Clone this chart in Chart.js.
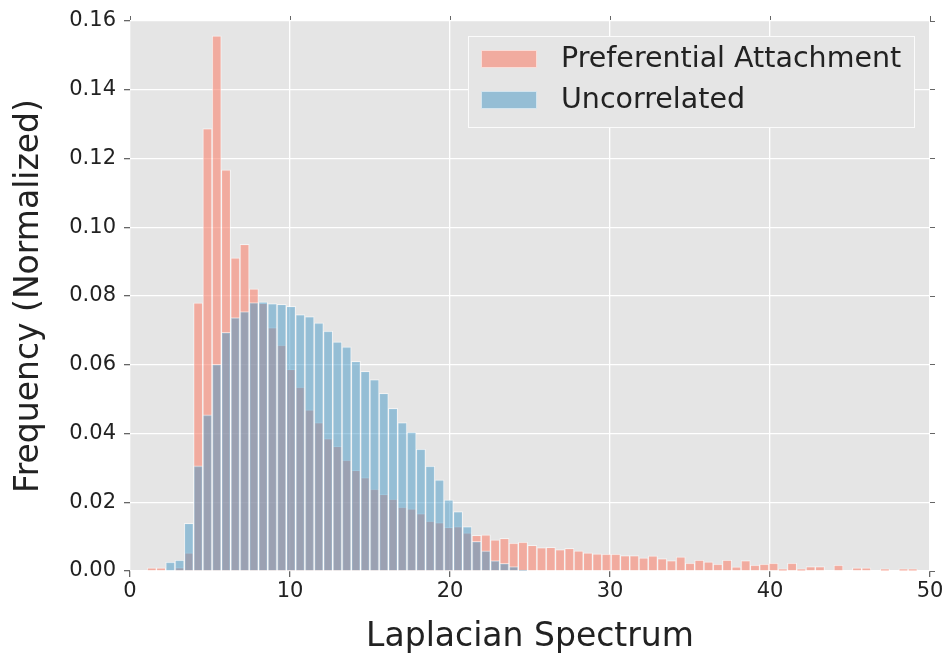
<!DOCTYPE html>
<html lang="en">
<head>
<meta charset="UTF-8">
<title>Laplacian Spectrum</title>
<script src="https://cdn.jsdelivr.net/npm/chart.js"></script>
<style>
  html, body { margin: 0; padding: 0; background: #fff; }
  #wrap { width: 951px; height: 659px; position: relative; }
</style>
</head>
<body>
<div id="wrap"><canvas id="grafico"></canvas></div>
<script>
// bin centres of the histogram (width about 0.58)
const binCenters = [
  1.36, 1.94, 2.52, 3.10, 3.68, 4.26, 4.84, 5.42, 6.00, 6.58,
  7.16, 7.74, 8.32, 8.90, 9.48, 10.06, 10.64, 11.22, 11.80, 12.38,
  12.96, 13.54, 14.12, 14.70, 15.28, 15.86, 16.44, 17.02, 17.60, 18.18,
  18.76, 19.34, 19.92, 20.50, 21.08, 21.66, 22.24, 22.82, 23.40, 23.98,
  24.56, 25.14, 25.72, 26.30, 26.88, 27.46, 28.04, 28.62, 29.20, 29.78,
  30.36, 30.94, 31.52, 32.10, 32.68, 33.26, 33.84, 34.42, 35.00, 35.58,
  36.16, 36.74, 37.32, 37.90, 38.48, 39.06, 39.64, 40.22, 40.80, 41.38,
  41.96, 42.54, 43.12, 43.70, 44.28, 44.86, 45.44, 46.02, 46.60, 47.18,
  47.76, 48.34, 48.92
];

const preferential = [
  0.0009, 0.0009, 0, 0.0010, 0.0053, 0.0780, 0.1287, 0.1557, 0.1167, 0.0911,
  0.0950, 0.0821, 0.0779, 0.0708, 0.0657, 0.0587, 0.0535, 0.0469, 0.0432, 0.0385,
  0.0363, 0.0323, 0.0293, 0.0272, 0.0238, 0.0223, 0.0209, 0.0186, 0.0181, 0.0167,
  0.0145, 0.0141, 0.0127, 0.0129, 0.0111, 0.0104, 0.0105, 0.0091, 0.0095, 0.0081,
  0.0084, 0.0075, 0.0068, 0.0069, 0.0062, 0.0066, 0.0059, 0.0053, 0.0050, 0.0049,
  0.0049, 0.0045, 0.0045, 0.0038, 0.0044, 0.0036, 0.0030, 0.0041, 0.0023, 0.0032,
  0.0027, 0.0020, 0.0032, 0.0012, 0.0030, 0.0017, 0.0020, 0.0023, 0.0006, 0.0023,
  0.0006, 0.0013, 0.0013, 0, 0.0017, 0, 0.0009, 0.0009, 0, 0.0006,
  0, 0.0006, 0.0006
];

const uncorrelated = [
  0, 0, 0.0026, 0.0032, 0.0139, 0.0306, 0.0454, 0.0601, 0.0694, 0.0737,
  0.0755, 0.0781, 0.0783, 0.0778, 0.0776, 0.0770, 0.0746, 0.0740, 0.0722, 0.0698,
  0.0667, 0.0652, 0.0610, 0.0581, 0.0557, 0.0517, 0.0473, 0.0432, 0.0404, 0.0355,
  0.0305, 0.0265, 0.0207, 0.0173, 0.0129, 0.0086, 0.0059, 0.0030, 0.0022, 0.0013,
  0.0003
];

const xTicks = [0, 10, 20, 30, 40, 50];
const yTicks = [0.00, 0.02, 0.04, 0.06, 0.08, 0.10, 0.12, 0.14, 0.16];

const corVermelha = 'rgba(249,132,112,0.6)';
const corAzul = 'rgba(70,152,198,0.5)';
const fonte = 'DejaVu Sans';

function pontos(valores) {
  return binCenters.map((c, i) => ({ x: c, y: valores[i] ? valores[i] : null }));
}

// fundo cinza da area do grafico
const fundo = {
  id: 'fundo',
  beforeDraw(chart) {
    const a = chart.chartArea, ctx = chart.ctx;
    ctx.save();
    ctx.fillStyle = '#E5E5E5';
    ctx.fillRect(a.left, a.top, a.right - a.left, a.bottom - a.top);
    ctx.restore();
  }
};

// legenda dentro do grafico, canto superior direito
const legenda = {
  id: 'legenda',
  afterDatasetsDraw(chart) {
    const a = chart.chartArea, ctx = chart.ctx;
    const w = 447, h = 92;
    const x0 = a.right - 15 - w, y0 = a.top + 15;
    ctx.save();
    ctx.fillStyle = '#E5E5E5';
    ctx.fillRect(x0, y0, w, h);
    ctx.strokeStyle = 'rgba(255,255,255,0.85)';
    ctx.lineWidth = 1;
    ctx.strokeRect(x0 + 0.5, y0 + 0.5, w - 1, h - 1);
    const itens = [chart.data.datasets[1], chart.data.datasets[0]];
    ctx.font = '28.5px "' + fonte + '"';
    ctx.textBaseline = 'middle';
    itens.forEach((ds, i) => {
      const cy = y0 + 23 + i * 41;
      ctx.fillStyle = ds.backgroundColor;
      ctx.fillRect(x0 + 13, cy - 9, 56, 18);
      ctx.strokeStyle = 'rgba(255,255,255,0.6)';
      ctx.strokeRect(x0 + 13.5, cy - 8.5, 55, 17);
      ctx.fillStyle = '#222';
      ctx.fillText(ds.label, x0 + 93, cy + 1);
    });
    ctx.restore();
  }
};

new Chart(document.getElementById('grafico').getContext('2d'), {
  type: 'bar',
  data: {
    datasets: [
      {
        label: 'Uncorrelated',
        data: pontos(uncorrelated),
        backgroundColor: corAzul,
        borderColor: 'rgba(255,255,255,0.55)',
        borderWidth: 1,
        order: 1
      },
      {
        label: 'Preferential Attachment',
        data: pontos(preferential),
        backgroundColor: corVermelha,
        borderColor: 'rgba(255,255,255,0.55)',
        borderWidth: 1,
        order: 2
      }
    ]
  },
  options: {
    responsive: true,
    maintainAspectRatio: false,
    animation: false,
    grouped: false,
    categoryPercentage: 1.0,
    barPercentage: 1.0,
    layout: { padding: 0 },
    plugins: {
      legend: { display: false },
      tooltip: { enabled: false }
    },
    scales: {
      x: {
        type: 'linear',
        position: 'bottom',
        offset: false,
        min: 0,
        max: 50,
        afterBuildTicks: (s) => { s.ticks = xTicks.map(v => ({ value: v })); },
        afterFit: (s) => { s.height = 88; },
        grid: { offset: false, color: '#fff', lineWidth: 1.3, tickColor: '#666', tickLength: 6 },
        border: { display: false },
        ticks: { color: '#222', font: { family: fonte, size: 21 }, padding: 2, maxRotation: 0 },
        title: { display: true, text: 'Laplacian Spectrum', color: '#222', font: { family: fonte, size: 33 }, padding: { top: 0, bottom: 2 } }
      },
      x2: {
        type: 'linear',
        position: 'top',
        offset: false,
        min: 0,
        max: 50,
        afterBuildTicks: (s) => { s.ticks = xTicks.map(v => ({ value: v })); },
        afterFit: (s) => { s.height = 21; },
        grid: { offset: false, drawOnChartArea: false, tickColor: '#666', tickLength: 5 },
        border: { display: false },
        ticks: { display: false }
      },
      y: {
        position: 'left',
        min: 0,
        max: 0.16,
        afterBuildTicks: (s) => { s.ticks = yTicks.map(v => ({ value: v })); },
        afterFit: (s) => { s.width = 130; },
        grid: { color: '#fff', lineWidth: 1.3, tickColor: '#666', tickLength: 6 },
        border: { display: false },
        ticks: { color: '#222', font: { family: fonte, size: 21 }, padding: 8, callback: (v) => v.toFixed(2) },
        title: { display: true, text: 'Frequency (Normalized)', color: '#222', font: { family: fonte, size: 33 }, padding: { top: 10, bottom: 0 } }
      },
      y2: {
        position: 'right',
        min: 0,
        max: 0.16,
        afterBuildTicks: (s) => { s.ticks = yTicks.map(v => ({ value: v })); },
        afterFit: (s) => { s.width = 21; },
        grid: { drawOnChartArea: false, tickColor: '#666', tickLength: 5 },
        border: { display: false },
        ticks: { display: false }
      }
    }
  },
  plugins: [fundo, legenda]
});
</script>
</body>
</html>
